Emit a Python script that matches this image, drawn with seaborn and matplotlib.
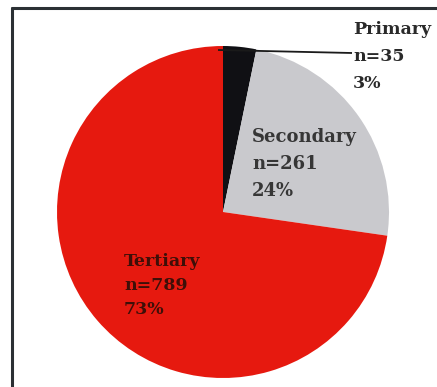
import matplotlib
matplotlib.use("Agg")
import matplotlib.pyplot as plt
import seaborn as sns
from matplotlib.lines import Line2D

# Education level of respondents
categories = ["Primary", "Secondary", "Tertiary"]
counts = [35, 261, 789]
percents = [3, 24, 73]
colors = ["#101014", "#c9c9cd", "#e6190f"]

sns.set_theme(style="white")
plt.rcParams["font.family"] = ["DejaVu Serif"]

W, H = 437, 387
fig = plt.figure(figsize=(W / 100, H / 100), dpi=100)
ax = fig.add_axes([0, 0, 1, 1])

# pie geometry in pixels
cx, cy, r = 223, 212, 166

ax.pie(counts, colors=colors, startangle=90, counterclock=False,
       radius=1.0, center=(0, 0), frame=False,
       wedgeprops=dict(linewidth=0, antialiased=True))
ax.set_xlim(-cx / r, (W - cx) / r)
ax.set_ylim(-(H - cy) / r, cy / r)
ax.set_aspect("auto")
ax.axis("off")


def px(x, y):
    return (x - cx) / r, (cy - y) / r


# leader line for the small slice
x0, y0 = px(218, 50)
x1, y1 = px(352, 53)
ax.plot([x0, x1], [y0, y1], color="#1a1a1a", lw=1.3, solid_capstyle="butt")

labels = [f"{c}\nn={n}\n{p}%" for c, n, p in zip(categories, counts, percents)]
styles = [
    dict(pos=(353, 30), color="#2a2a2a", weight="bold", size=12.5, dy=27),
    dict(pos=(252, 137), color="#363636", weight="bold", size=13, dy=27),
    dict(pos=(124, 261), color="#3e0f08", weight="semibold", size=12.5, dy=24),
]
for lab, st in zip(labels, styles):
    for i, line in enumerate(lab.split("\n")):
        tx, ty = px(st["pos"][0], st["pos"][1] + i * st["dy"])
        ax.text(tx, ty, line, ha="left", va="center", color=st["color"],
                fontweight=st["weight"], fontsize=st["size"],
                family=["DejaVu Serif"])

# outer frame (right and bottom edges lie beyond the canvas)
fx, fy = 12 / W, 1 - 8 / H
fig.add_artist(Line2D([fx, 1.0], [fy, fy], transform=fig.transFigure,
                      color="#2b3034", lw=2.2))
fig.add_artist(Line2D([fx, fx], [0.0, fy], transform=fig.transFigure,
                      color="#2b3034", lw=2.2))

fig.savefig("out.png", dpi=100, facecolor="white")
